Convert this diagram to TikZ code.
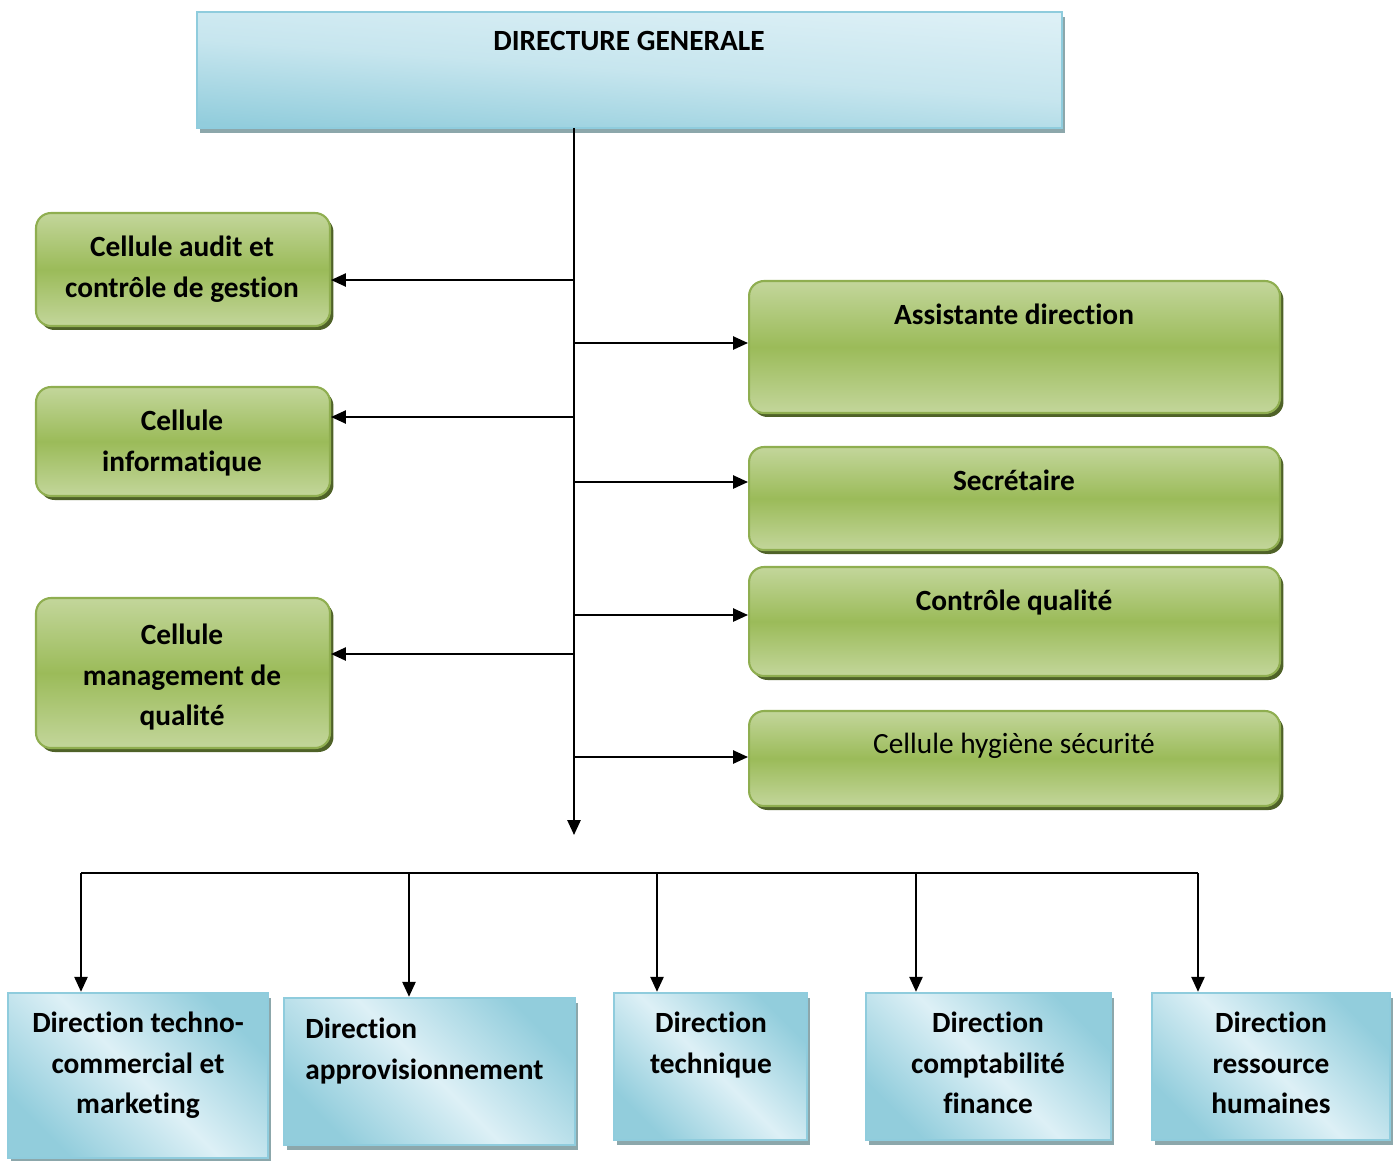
\documentclass[tikz,border=0pt]{standalone}
\usepackage{fontspec}
\setmainfont{Carlito}[Ligatures=NoCommon]
\usetikzlibrary{arrows.meta,shadows}

\definecolor{greenlight}{HTML}{C3D69B}
\definecolor{greendark}{HTML}{9BBB59}
\definecolor{greenline}{HTML}{8FAE50}
\definecolor{greenshadow}{HTML}{4F6228}
\definecolor{bluelight}{HTML}{DDF0F6}
\definecolor{bluedark}{HTML}{92CDDC}
\definecolor{blueline}{HTML}{8FCCDD}
\definecolor{blueshadow}{HTML}{8CA7AB}

\begin{document}
\begin{tikzpicture}[x=0.02cm, y=-0.02cm,
  gbox/.style={draw=greenline, line width=1.2pt, rounded corners=0.3cm,
    top color=greenlight, bottom color=greenlight, middle color=greendark,
    drop shadow={shadow xshift=0.07cm, shadow yshift=-0.08cm, fill=greenshadow, opacity=1}},
  bbox/.style={draw=blueline, line width=1.4pt,
    drop shadow={shadow xshift=0.06cm, shadow yshift=-0.1cm, fill=blueshadow, opacity=1}},
  lbl/.style={inner sep=0pt, anchor=north, align=center,
    font=\fontsize{16.7}{23.2}\selectfont\bfseries},
  conn/.style={line width=1.1pt, -{Triangle[width=7.5pt,length=8.5pt]}},
  wire/.style={line width=1.1pt}]

\useasboundingbox (0,0) rectangle (1398,1160);

% Top box
\node[bbox, top color=bluelight, bottom color=bluedark, middle color=bluelight!70!bluedark,
  shading angle=-4, minimum width=17.3cm, minimum height=2.32cm] (dg) at (629.5,70) {};
\node[lbl] (dg-t) at (629,21.4) {\strut DIRECTURE GENERALE};

% Cells on the left
\node[gbox, minimum width=5.88cm, minimum height=2.26cm] (audit) at (183,269.5) {};
\node[gbox, minimum width=5.88cm, minimum height=2.18cm] (info) at (183,441.5) {};
\node[gbox, minimum width=5.88cm, minimum height=3.0cm] (mgmt) at (183,673) {};
\node[lbl] (audit-t) at (182,227.4) {\strut Cellule audit et\\contrôle de gestion};
\node[lbl] (info-t) at (182,401.4) {\strut Cellule\\informatique};
\node[lbl] (mgmt-t) at (182,615.4) {\strut Cellule\\management de\\qualité};

% Cells on the right
\node[gbox, minimum width=10.62cm, minimum height=2.64cm] (assist) at (1014.5,347) {};
\node[gbox, minimum width=10.62cm, minimum height=2.06cm] (secr) at (1014.5,498.5) {};
\node[gbox, minimum width=10.62cm, minimum height=2.18cm] (ctrl) at (1014.5,621.5) {};
\node[gbox, minimum width=10.62cm, minimum height=1.9cm] (hyg) at (1014.5,758.5) {};
\node[lbl] (assist-t) at (1014,295.4) {\strut Assistante direction};
\node[lbl] (secr-t) at (1014,461.4) {\strut Secrétaire};
\node[lbl] (ctrl-t) at (1014,581.4) {\strut Contrôle qualité};
\node[lbl, font=\fontsize{16.7}{23.2}\selectfont] (hyg-t) at (1014,724.4) {\strut Cellule hygiène sécurité};

% Directions at the bottom
\tikzset{bshade/.style={bbox, top color=bluedark, bottom color=bluedark,
  middle color=bluelight, shading angle=-45}}
\node[bshade, minimum width=5.2cm, minimum height=3.3cm] (dtc) at (138,1075.5) {};
\node[bshade, minimum width=5.82cm, minimum height=2.94cm] (dappro) at (429.5,1071.5) {};
\node[bshade, minimum width=3.86cm, minimum height=2.94cm] (dtech) at (710.5,1066.5) {};
\node[bshade, minimum width=4.9cm, minimum height=2.94cm] (dcompta) at (988.5,1066.5) {};
\node[bshade, minimum width=4.76cm, minimum height=2.94cm] (drh) at (1271,1066.5) {};
\node[lbl] (dtc-t) at (138,1003.4) {\strut Direction techno-\\commercial et\\marketing};
\node[lbl, anchor=north west, align=left] (dappro-t) at (305,1009.4) {\strut Direction\\approvisionnement};
\node[lbl] (dtech-t) at (711,1003.4) {\strut Direction\\technique};
\node[lbl] (dcompta-t) at (988,1003.4) {\strut Direction\\comptabilité\\finance};
\node[lbl] (drh-t) at (1271,1003.4) {\strut Direction\\ressource\\humaines};

% Trunk
\coordinate (top) at (574,128);
\coordinate (tend) at (574,835);
\draw[conn] (top) -- (tend);

% Branches to the cells
\coordinate (l1) at (574,280);
\coordinate (l2) at (574,417);
\coordinate (l3) at (574,654);
\draw[conn] (l1) -- (l1 -| audit.east);
\draw[conn] (l2) -- (l2 -| info.east);
\draw[conn] (l3) -- (l3 -| mgmt.east);

\coordinate (r1) at (574,343);
\coordinate (r2) at (574,482);
\coordinate (r3) at (574,615);
\coordinate (r4) at (574,757);
\draw[conn] (r1) -- (r1 -| assist.west);
\draw[conn] (r2) -- (r2 -| secr.west);
\draw[conn] (r3) -- (r3 -| ctrl.west);
\draw[conn] (r4) -- (r4 -| hyg.west);

% Bus to the directions
\coordinate (b1) at (81,873);
\coordinate (b2) at (409,873);
\coordinate (b3) at (657,873);
\coordinate (b4) at (916,873);
\coordinate (b5) at (1198,873);
\draw[wire] (b1) -- (b5);
\draw[conn] (b1) -- (b1 |- dtc.north);
\draw[conn] (b2) -- (b2 |- dappro.north);
\draw[conn] (b3) -- (b3 |- dtech.north);
\draw[conn] (b4) -- (b4 |- dcompta.north);
\draw[conn] (b5) -- (b5 |- drh.north);

\end{tikzpicture}
\end{document}
